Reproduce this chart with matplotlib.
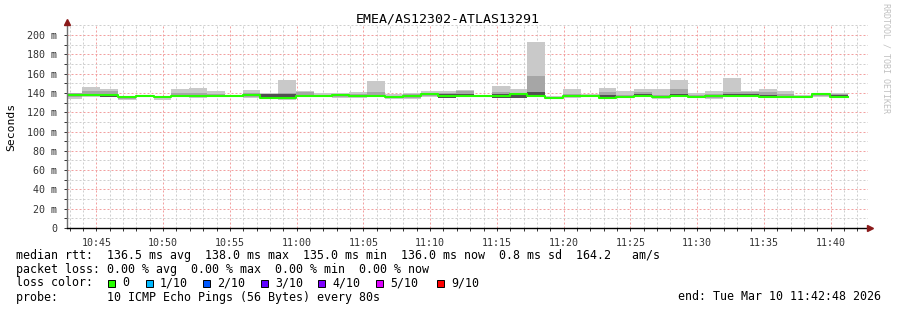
import numpy as np
import matplotlib
matplotlib.use("Agg")
import matplotlib.pyplot as plt
import matplotlib.dates as mdates
from matplotlib.ticker import MultipleLocator, FuncFormatter
from matplotlib.patches import Rectangle

# ---------------- data ----------------
title = "EMEA/AS12302-ATLAS13291"
first_step = np.datetime64("2026-03-10T10:42:37")
step_seconds = 80
view_start = np.datetime64("2026-03-10T10:42:48")
view_end = np.datetime64("2026-03-10T11:42:48")

median_ms = [138, 138, 138, 136, 136.5, 136, 137, 137, 137, 136.5, 137.5, 135, 135, 137, 137,
             137.5, 136.5, 136.5, 135.5, 136.5, 138.5, 136.8, 137.2, 137, 136.5, 138.4, 136.5,
             135.2, 136.6, 136.8, 135.2, 136.2, 137.2, 135.6, 137.2, 136.2, 136.8, 136.8, 137,
             136.2, 136.2, 136, 138.4, 136]
max_ms = [140, 146.5, 143.7, 137, 137.5, 137, 144, 145, 142, 137.5, 143, 139.5, 153.4, 142.3,
          139.5, 140.3, 141, 152.3, 138.5, 140, 142, 141.6, 143, 138, 147, 144, 192.7, 137, 144,
          138.5, 145, 141.6, 144, 144, 153.4, 140, 142, 155.4, 141.6, 144, 142, 137.8, 139.5, 140]
min_ms = [134, 136, 135.5, 132.8, 135.5, 133, 135.5, 135, 136, 136, 134.5, 134, 133, 136, 136,
          135, 135, 135.5, 134, 133.7, 135.7, 135, 136, 136, 134.5, 134.5, 135.5, 134, 135, 135.5,
          134.5, 135, 136, 134, 135.5, 135, 134, 135.5, 136, 135, 134.5, 135.5, 136, 134.5]
mid_hi_ms = [139.5, 142.3, 142.3, 136.5, 137, 136.5, 140.3, 140.3, 139, 137, 140, 139.3, 139.5,
             140.5, 138, 139, 139, 141, 137, 138.5, 140, 140, 141.5, 137.5, 141, 140, 157.5, 136,
             139, 137.5, 140.5, 138, 141, 138, 144, 138, 139, 141.3, 140.5, 140.5, 139, 137, 139, 139]
mid_lo_ms = [135.5, 137, 136, 134, 136, 134.5, 136, 135.5, 136.5, 136, 135.5, 134.5, 134, 136.5,
             136.5, 136, 135.5, 136, 134.5, 134.5, 136.5, 135.5, 136.5, 136.5, 135, 135.5, 136,
             134.5, 135.5, 136, 135, 135.5, 136.5, 134.5, 136, 135.5, 135, 136, 136.5, 135.5, 135,
             135.5, 137, 135]
inner_hi_ms = [138.5, 139, 138.5, 136.5, 137, 136.5, 138, 138, 137.5, 137, 138.5, 139.3, 139.3,
               138, 137.5, 138, 137, 138, 136, 137, 139, 138.5, 139, 137.5, 138.5, 139, 141, 135.5,
               137, 137, 138, 136.5, 138.5, 136, 139, 136.5, 137.5, 138.5, 138.5, 137.5, 137, 136.5,
               139, 137.5]
inner_lo_ms = [136.5, 137.5, 135.8, 135, 136, 135.5, 136.5, 135.5, 136.5, 136, 136.5, 134.3, 134.5,
               136.5, 136.5, 137, 135.5, 136, 134.3, 136, 137.5, 135.2, 136.7, 136.5, 134.8, 135, 136,
               134.3, 136, 135.8, 134.8, 135.8, 136.5, 134.3, 136.5, 135.3, 136.3, 136.3, 136.5,
               135.3, 135.5, 135.5, 137.5, 135.5]

legend_rtt = "median rtt:  136.5 ms avg  138.0 ms max  135.0 ms min  136.0 ms now  0.8 ms sd  164.2   am/s"
legend_loss = "packet loss: 0.00 % avg  0.00 % max  0.00 % min  0.00 % now"
loss_labels = ["0", "1/10", "2/10", "3/10", "4/10", "5/10", "9/10"]
loss_colors = ["#26ff00", "#00b8ff", "#0059ff", "#5e00ff", "#7e00ff", "#dd00ff", "#ff0000"]
probe_text = "probe:       10 ICMP Echo Pings (56 Bytes) every 80s"
end_text = "end: Tue Mar 10 11:42:48 2026"

# ---------------- figure ----------------
W, H = 897, 310
fig = plt.figure(figsize=(W / 100, H / 100), dpi=100)
fig.patch.set_facecolor("white")
ax_left, ax_right, ax_bottom, ax_top = 67, 868, 228, 25.35
ax = fig.add_axes([ax_left / W, 1 - ax_bottom / H, (ax_right - ax_left) / W, (ax_bottom - ax_top) / H])

n = len(median_ms)
edges = first_step + np.arange(n + 1) * np.timedelta64(step_seconds, "s")
def ext(a):
    a = np.asarray(a, float)
    return np.append(a, a[-1])

ax.fill_between(edges, ext(min_ms), ext(max_ms), step="post", color="#c9c9c9", lw=0, zorder=2)
ax.fill_between(edges, ext(mid_lo_ms), ext(mid_hi_ms), step="post", color="#a6a6a6", lw=0, zorder=3)
ax.fill_between(edges, ext(inner_lo_ms), ext(inner_hi_ms), step="post", color="#505050", lw=0, zorder=4)
ax.step(edges, ext(median_ms), where="post", color="#26ff00", lw=1.5, zorder=5)

ax.set_xlim(view_start, view_end)
ax.set_ylim(0, 210)

ax.xaxis.set_major_locator(mdates.MinuteLocator(byminute=range(0, 60, 5)))
ax.xaxis.set_minor_locator(mdates.MinuteLocator())
ax.xaxis.set_major_formatter(mdates.DateFormatter("%H:%M"))
ax.yaxis.set_major_locator(MultipleLocator(20))
ax.yaxis.set_minor_locator(MultipleLocator(10))
ax.yaxis.set_major_formatter(FuncFormatter(lambda v, p: "0" if v == 0 else f"{v:.0f} m"))

ax.grid(which="minor", color="#cfcfcf", ls=(0, (2, 2)), lw=0.72, zorder=1)
ax.grid(which="major", color="#f2a0a0", ls=(0, (2, 2)), lw=0.72, zorder=1)
ax.set_axisbelow(True)

mono = "DejaVu Sans Mono"
ax.tick_params(axis="both", which="both", labelsize=7.2, colors="#333333", length=2, width=0.7)
ax.tick_params(axis="x", which="major", pad=5)
ax.tick_params(axis="y", which="major", pad=5)
for lab in ax.get_xticklabels() + ax.get_yticklabels():
    lab.set_fontfamily(mono)

for s in ("top", "right"):
    ax.spines[s].set_visible(False)
ax.spines["left"].set_color("#707070")
ax.spines["bottom"].set_color("#000000")
ax.spines["left"].set_linewidth(1.0)
ax.spines["bottom"].set_linewidth(1.0)
ax.spines["left"].set_zorder(6)
ax.spines["bottom"].set_zorder(6)

ax.plot([0], [1.017], marker="^", ms=4.5, color="#8b1a1a", transform=ax.transAxes, clip_on=False, zorder=7)
ax.plot([1.003], [0], marker=">", ms=4.5, color="#8b1a1a", transform=ax.transAxes, clip_on=False, zorder=7)

def fy(py):
    return 1 - py / H

fig.text(448 / W, fy(19), title, ha="center", va="center", fontsize=9.5, family=mono, color="#000000")
fig.text(11 / W, fy(127), "Seconds", ha="center", va="center", rotation=90, fontsize=8.2, family=mono)
fig.text(886 / W, fy(58), "RRDTOOL / TOBI OETIKER", ha="center", va="center", rotation=-90,
         fontsize=6, family=mono, color="#c0c0c0")

fs = 8.4
fig.text(16 / W, fy(255), legend_rtt, ha="left", va="center", fontsize=fs, family=mono)
fig.text(16 / W, fy(269), legend_loss, ha="left", va="center", fontsize=fs, family=mono)
fig.text(16 / W, fy(283), "loss color:", ha="left", va="center", fontsize=fs, family=mono)
sq_x = [108, 146, 203, 261, 318, 376, 437]
for x0, lab, col in zip(sq_x, loss_labels, loss_colors):
    fig.patches.append(Rectangle((x0 / W, fy(286.5)), 7 / W, 7 / H, transform=fig.transFigure,
                                 facecolor=col, edgecolor="black", lw=0.7))
    fig.text((x0 + 14) / W, fy(283), lab, ha="left", va="center", fontsize=fs, family=mono)
fig.text(16 / W, fy(297), probe_text, ha="left", va="center", fontsize=fs, family=mono)
fig.text(881 / W, fy(297), end_text, ha="right", va="center", fontsize=fs, family=mono)

fig.savefig("out.png", dpi=100, facecolor="white")
